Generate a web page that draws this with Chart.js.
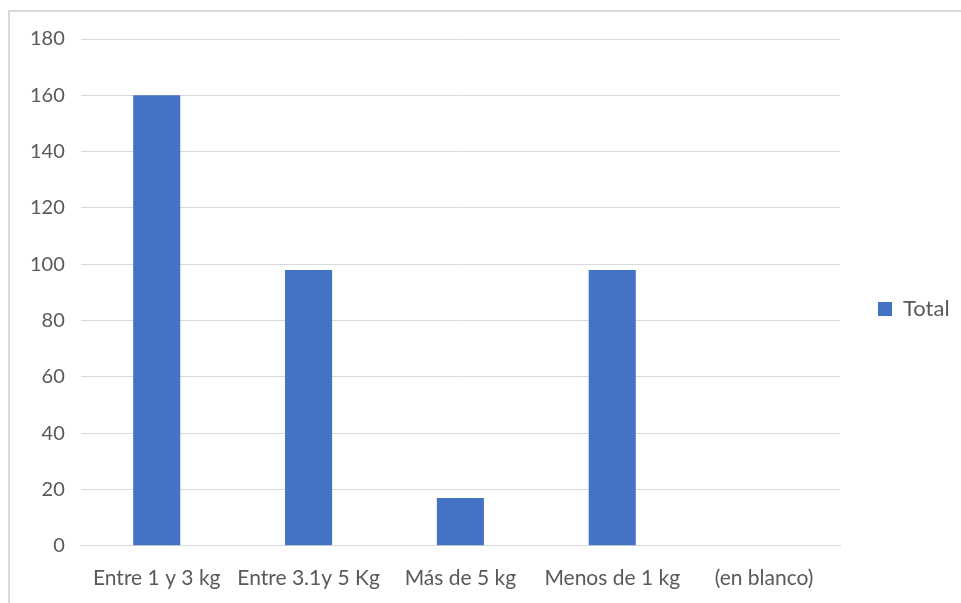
<!DOCTYPE html>
<html>
<head>
<meta charset="utf-8">
<script src="https://cdn.jsdelivr.net/npm/chart.js@4/dist/chart.umd.min.js"></script>
<style>
  html, body { margin: 0; padding: 0; background: #fff; }
  #frame {
    position: absolute; left: 8px; top: 10px; width: 960px; height: 600px;
    border-left: 2px solid #d9d9d9; border-top: 2px solid #d9d9d9;
  }
  #wrap { position: absolute; left: 0; top: 0; width: 961px; height: 603px; }
</style>
</head>
<body>
<div id="frame"></div>
<div id="wrap"><canvas id="chart" width="961" height="603"></canvas></div>
<script>
// categories and values
var categories = ['Entre 1 y 3 kg', 'Entre 3.1y 5 Kg', 'Más de 5 kg', 'Menos de 1 kg', '(en blanco)'];
var totals = [160, 98, 17, 98, 0];
var seriesName = 'Total';

// keep the legend column a fixed width so the plot ends where the original does,
// and nudge the legend item up a little
var legendPlacePlugin = {
  id: 'legendPlace',
  beforeInit: function(chart) {
    var legend = chart.legend;
    var origFit = legend.fit;
    var origDraw = legend.draw;
    legend.fit = function() {
      origFit.call(this);
      this.width = 121;
    };
    legend.draw = function() {
      var c = this.ctx;
      c.save();
      c.translate(0, -12);
      origDraw.apply(this, arguments);
      c.restore();
    };
  }
};

var ctx = document.getElementById('chart').getContext('2d');

window.myBarChart = new Chart(ctx, {
  type: 'bar',
  data: {
    labels: categories,
    datasets: [{
      label: seriesName,
      data: totals,
      backgroundColor: '#4472c4',
      borderWidth: 0,
      barPercentage: 0.62,
      categoryPercentage: 0.5
    }]
  },
  options: {
    responsive: false,
    animation: false,
    layout: {
      padding: { left: 14, top: 39, right: 0, bottom: 0 }
    },
    plugins: {
      legend: {
        position: 'right',
        labels: {
          boxWidth: 14,
          boxHeight: 14,
          padding: 38,
          color: '#595959',
          font: { family: 'Lato', size: 22 }
        }
      },
      tooltip: { enabled: false }
    },
    scales: {
      x: {
        grid: { display: false },
        border: { display: true, color: '#d9d9d9', width: 1 },
        ticks: {
          color: '#595959',
          padding: 12,
          maxRotation: 0,
          font: { family: 'Lato', size: 21 }
        }
      },
      y: {
        min: 0,
        max: 180,
        ticks: {
          stepSize: 20,
          padding: 16,
          color: '#595959',
          font: { family: 'Lato', size: 20 }
        },
        grid: { color: '#d9d9d9', drawTicks: false },
        border: { display: false }
      }
    }
  },
  plugins: [legendPlacePlugin]
});
</script>
</body>
</html>
